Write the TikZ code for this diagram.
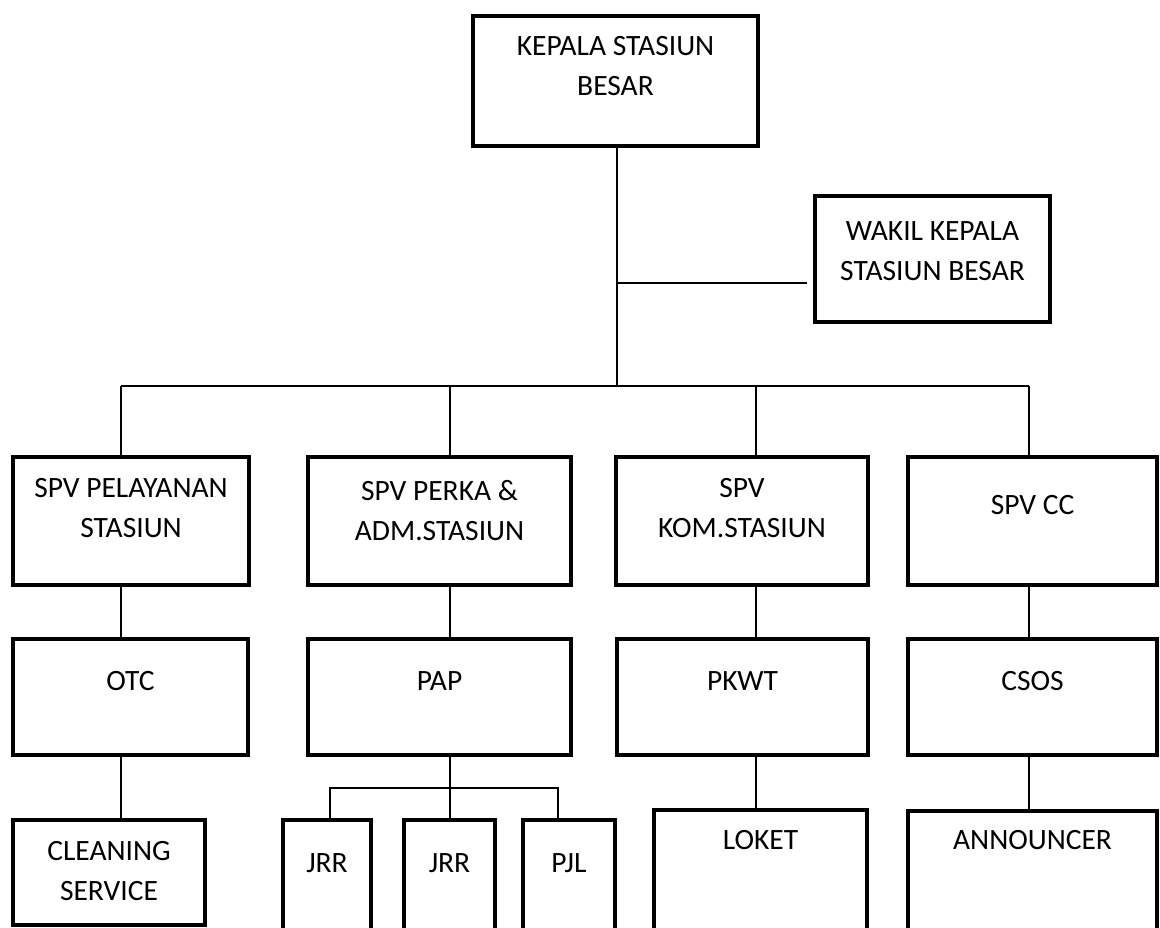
\documentclass[tikz,border=0pt]{standalone}
\usepackage{fontspec}
\setmainfont{Carlito}
\usetikzlibrary{calc}

\begin{document}
\begin{tikzpicture}[x=0.5pt,y=-0.5pt,
    orgbox/.style n args={2}{draw, line width=2pt, inner sep=0pt,
      minimum width=#1, minimum height=#2},
    lbl/.style={anchor=north, align=center, inner sep=0pt,
      font=\fontsize{14.75pt}{20pt}\selectfont},
    link/.style={line width=0.65pt}]
  \useasboundingbox (0,0) rectangle (1160,927);
  \clip (0,0) rectangle (1160,927);
  % pimpinan
  \node[orgbox={142.5pt}{65pt}, label={[lbl,yshift=-11pt]north:KEPALA STASIUN\\BESAR}] (ks) at (615.5,81) {};
  \node[orgbox={117.5pt}{63pt}, label={[lbl,yshift=-13.5pt]north:WAKIL KEPALA\\STASIUN BESAR}] (wks) at (932.5,259) {};
  % supervisor
  \node[orgbox={118pt}{64pt}, label={[lbl,yshift=-11.5pt]north:SPV PELAYANAN\\STASIUN}] (spvpel) at (131,521) {};
  \node[orgbox={131.5pt}{64pt}, label={[lbl,yshift=-12.5pt]north:SPV PERKA \&\\ADM.STASIUN}] (spvperka) at (439.5,521) {};
  \node[orgbox={126pt}{64pt}, label={[lbl,yshift=-11.5pt]north:SPV\\KOM.STASIUN}] (spvkom) at (742,521) {};
  \node[orgbox={124.5pt}{64pt}, label={[lbl,yshift=-20pt]north:SPV CC}] (spvcc) at (1032.5,521) {};
  % pelaksana
  \node[orgbox={117.5pt}{58pt}, label={[lbl,yshift=-17pt]north:OTC}] (otc) at (130.5,697) {};
  \node[orgbox={131.5pt}{58pt}, label={[lbl,yshift=-17pt]north:PAP}] (pap) at (439.5,697) {};
  \node[orgbox={125.5pt}{58pt}, label={[lbl,yshift=-17pt]north:PKWT}] (pkwt) at (742.5,697) {};
  \node[orgbox={124.5pt}{58pt}, label={[lbl,yshift=-17pt]north:CSOS}] (csos) at (1032.5,697) {};
  % staf
  \node[orgbox={96pt}{52.5pt}, label={[lbl,yshift=-11.5pt]north:CLEANING\\SERVICE}] (cs) at (109,872.5) {};
  \node[orgbox={44pt}{90pt}, label={[lbl,yshift=-17.5pt]north:JRR}] (jrra) at (327,910) {};
  \node[orgbox={45.5pt}{90pt}, label={[lbl,yshift=-17.5pt]north:JRR}] (jrrb) at (449.5,910) {};
  \node[orgbox={46pt}{90pt}, label={[lbl,yshift=-17.5pt]north:PJL}] (pjl) at (569,910) {};
  \node[orgbox={106.5pt}{95pt}, label={[lbl,yshift=-11pt]north:LOKET}] (loket) at (760.5,905) {};
  \node[orgbox={124.5pt}{94.5pt}, label={[lbl,yshift=-10.5pt]north:ANNOUNCER}] (ann) at (1032.5,905.5) {};
  % garis
  \coordinate (d1) at (121,386);
  \coordinate (d2) at (450,386);
  \coordinate (d3) at (756,386);
  \coordinate (d4) at (1029,386);
  \coordinate (wj) at (617,283);
  \coordinate (pa) at (330,788);
  \coordinate (pc) at (558,788);
  \draw[link] (ks.south -| wj) -- (wj |- d1);
  \draw[link, shorten >=3pt] (wj) -- (wj -| wks.west);
  \draw[link] (d1) -- (d4);
  \foreach \d/\a/\b in {d1/spvpel/otc, d2/spvperka/pap, d3/spvkom/pkwt, d4/spvcc/csos} {
    \draw[link] (\d) -- (\d |- \a.north);
    \draw[link] (\d |- \a.south) -- (\d |- \b.north);
  }
  \draw[link] (d1 |- otc.south) -- (d1 |- cs.north);
  \draw[link] (d3 |- pkwt.south) -- (d3 |- loket.north);
  \draw[link] (d4 |- csos.south) -- (d4 |- ann.north);
  \draw[link] (d2 |- pap.south) -- (d2 |- jrrb.north);
  \draw[link] (pa |- jrra.north) -- (pa) -- (pc) -- (pc |- pjl.north);
\end{tikzpicture}
\end{document}
